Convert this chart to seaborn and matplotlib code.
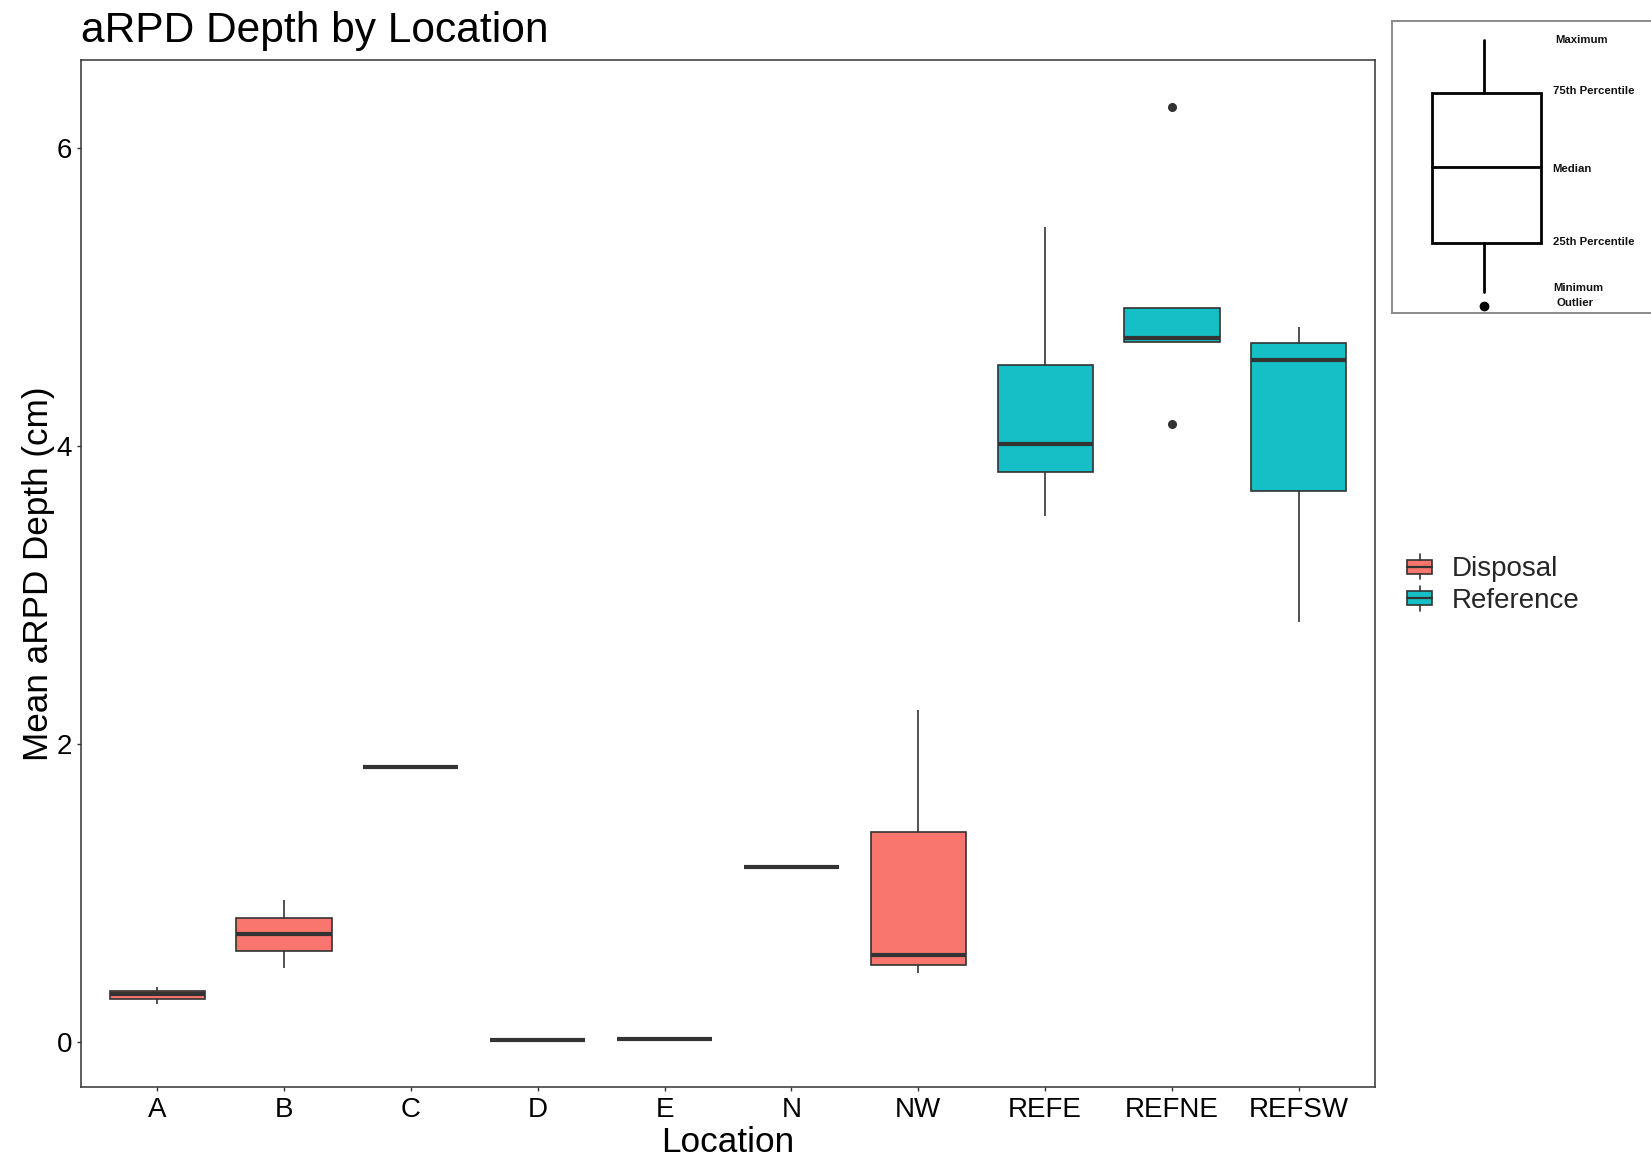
import matplotlib
matplotlib.use("Agg")
import matplotlib.pyplot as plt
from matplotlib.patches import Rectangle, Patch
from matplotlib.lines import Line2D
from matplotlib.legend_handler import HandlerBase
import numpy as np
import pandas as pd
import seaborn as sns

# ---- data: mean aRPD depth (cm) per station, grouped by location ----
locations = ["A", "B", "C", "D", "E", "N", "NW", "REFE", "REFNE", "REFSW"]
location_type = ["Disposal"] * 7 + ["Reference"] * 3
depth_A = [0.254, 0.290, 0.318, 0.339, 0.367]
depth_B = [0.495, 0.608, 0.721, 0.834, 0.954]
depth_C = [1.845]
depth_D = [0.010]
depth_E = [0.020]
depth_N = [1.173]
depth_NW = [0.460, 0.516, 0.580, 1.406, 2.226]
depth_REFE = [3.527, 3.823, 4.014, 4.544, 5.470]
depth_REFNE = [4.148, 4.693, 4.721, 4.926, 6.275]
depth_REFSW = [2.820, 3.696, 4.572, 4.686, 4.799]
depths = [depth_A, depth_B, depth_C, depth_D, depth_E, depth_N, depth_NW,
          depth_REFE, depth_REFNE, depth_REFSW]

groups = ["Disposal", "Reference"]
group_colors = ["#F8766D", "#14BFC5"]
y_ticks = [0, 2, 4, 6]

rows = []
for loc, typ, vals in zip(locations, location_type, depths):
    for v in vals:
        rows.append({"Location": loc, "Type": typ, "Depth": v})
df = pd.DataFrame(rows)

# ---- style ----
sns.set_theme(style="white")
plt.rcParams["font.family"] = ["Liberation Sans", "DejaVu Sans"]
EDGE = "#333333"

W, H = 1651, 1160
fig = plt.figure(figsize=(W / 100, H / 100), dpi=100)
fig.patch.set_facecolor("white")
ax = fig.add_axes([81 / W, 1 - 1087 / H, (1375 - 81) / W, (1087 - 60) / H])

sns.boxplot(
    data=df, x="Location", y="Depth", hue="Type",
    order=locations, hue_order=groups, palette=group_colors,
    dodge=False, width=0.75, saturation=1, linecolor=EDGE, linewidth=1.2,
    showcaps=False, legend=False,
    medianprops=dict(linewidth=3.0, color=EDGE),
    flierprops=dict(marker="o", markersize=5.5, markerfacecolor=EDGE,
                    markeredgecolor=EDGE),
    ax=ax,
)

# ggplot-like expansion of the scales
all_vals = np.concatenate([np.asarray(v) for v in depths])
lo, hi = all_vals.min(), all_vals.max()
pad = (hi - lo) * 0.05
ax.set_ylim(lo - pad, hi + pad)
ax.set_xlim(-0.6, len(locations) - 1 + 0.6)
ax.set_yticks(y_ticks)
ax.set_yticklabels([str(t) for t in y_ticks])

for s in ax.spines.values():
    s.set_visible(True)
    s.set_color(EDGE)
    s.set_linewidth(1.1)
ax.tick_params(axis="both", bottom=True, left=True, length=3, width=1.0,
               color=EDGE, labelsize=20, labelcolor="black")
ax.tick_params(axis="x", pad=4.5)
ax.tick_params(axis="y", pad=3.5)
ax.set_xlabel("Location", fontsize=25.3, labelpad=2, color="black")
ax.set_ylabel("Mean aRPD Depth (cm)", fontsize=25.3, labelpad=1, color="black")
ax.set_title("aRPD Depth by Location", loc="left", fontsize=30.6, pad=13,
             color="black")


# ---- legend with box-shaped keys ----
class BoxKeyHandler(HandlerBase):
    def create_artists(self, legend, orig_handle, xdescent, ydescent,
                       width, height, fontsize, trans):
        fc = orig_handle.get_facecolor()
        x0, y0 = -xdescent, -ydescent
        bh = height * 0.56
        by = y0 + (height - bh) / 2
        cx = x0 + width / 2
        box = Rectangle((x0, by), width, bh, facecolor=fc, edgecolor=EDGE,
                        linewidth=1.2, transform=trans)
        w_top = Line2D([cx, cx], [by + bh, y0 + height], color=EDGE,
                       linewidth=1.2, transform=trans)
        w_bot = Line2D([cx, cx], [y0, by], color=EDGE, linewidth=1.2,
                       transform=trans)
        med = Line2D([x0, x0 + width], [y0 + height / 2] * 2, color=EDGE,
                     linewidth=1.6, transform=trans)
        return [box, w_top, w_bot, med]


handles = [Patch(facecolor=c, edgecolor=EDGE, label=g)
           for g, c in zip(groups, group_colors)]
fig.legend(handles=handles, handler_map={Patch: BoxKeyHandler()},
           loc="center left", bbox_to_anchor=(1407 / W, 1 - 584 / H),
           bbox_transform=fig.transFigure, frameon=False, fontsize=20,
           handlelength=0.9, handleheight=1.0, handletextpad=0.7,
           labelspacing=0.12, borderpad=0, borderaxespad=0)

# ---- how-to-read key for the boxes ----
kx0, kx1, ky0, ky1 = 1392, 1668, 21, 313
kax = fig.add_axes([kx0 / W, 1 - ky1 / H, (kx1 - kx0) / W, (ky1 - ky0) / H])
kax.set_xlim(kx0, kx1)
kax.set_ylim(ky1, ky0)
kax.set_xticks([])
kax.set_yticks([])
kax.set_facecolor("white")
for s in kax.spines.values():
    s.set_color("#8a8a8a")
    s.set_linewidth(1.4)

bx0, bx1, b_q3, b_med, b_q1 = 1432, 1541, 93, 167, 243
b_max, b_min, b_out = 40, 292, 306
bcx = (bx0 + bx1) / 2 - 2.5
kax.add_patch(Rectangle((bx0, b_q3), bx1 - bx0, b_q1 - b_q3, facecolor="white",
                        edgecolor="black", linewidth=2.0))
kax.plot([bx0, bx1], [b_med, b_med], color="black", linewidth=2.0)
kax.plot([bcx, bcx], [b_max, b_q3], color="black", linewidth=2.0)
kax.plot([bcx, bcx], [b_q1, b_min], color="black", linewidth=2.0)
kax.plot([bcx], [b_out], marker="o", markersize=6, color="black")

key_labels = [("Maximum", 1555, 40), ("75th Percentile", 1553, 91),
              ("Median", 1552, 169), ("25th Percentile", 1553, 242),
              ("Minimum", 1553, 288), ("Outlier", 1556, 303)]
for txt, tx, ty in key_labels:
    kax.text(tx, ty, txt, fontsize=8.2, fontweight="bold", ha="left",
             va="center", color="#111111")

fig.savefig("out.png", dpi=100, facecolor="white")
